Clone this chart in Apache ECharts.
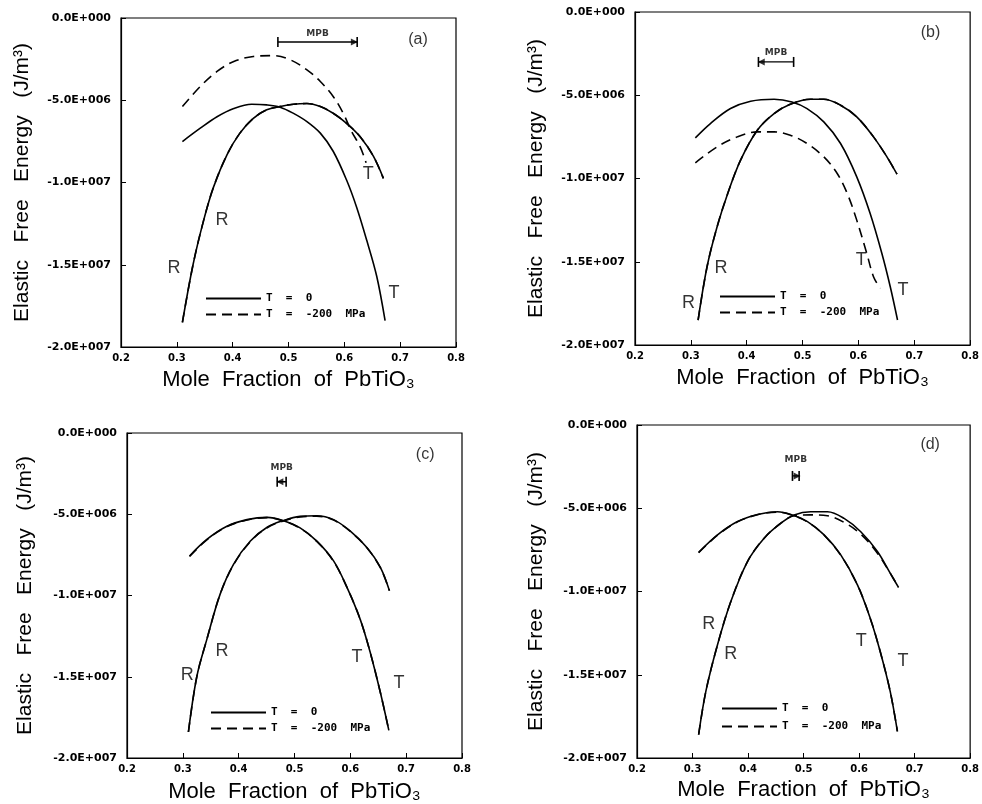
<!DOCTYPE html>
<html><head><meta charset="utf-8">
<script src="https://cdn.jsdelivr.net/npm/echarts@6/dist/echarts.min.js"></script>
<style>html,body{margin:0;padding:0;background:#fff}#c{width:982px;height:804px}</style>
</head><body><div id="c"></div>
<script>
// ---------- tick labels / names ----------
const xTickLabels = ['0.2','0.3','0.4','0.5','0.6','0.7','0.8'];
const yTickLabels = ['-2.0E+007','-1.5E+007','-1.0E+007','-5.0E+006','0.0E+000'];
const seriesNames = ['T  =  0','T  =  -200  MPa'];
const panelLetters = ['(a)','(b)','(c)','(d)'];
const xTitle = 'Mole  Fraction  of  PbTiO\u2083';
const yTitle = 'Elastic   Free   Energy   (J/m\u00B3)';

// ---------- panel (a) ----------
const a_solid_peakLeft = [[0.310,-7.51e6],[0.342,-6.7e6],[0.372,-6.0e6],[0.402,-5.5e6],[0.434,-5.24e6],[0.461,-5.28e6],[0.485,-5.42e6],[0.509,-5.8e6],[0.533,-6.3e6],[0.557,-7.0e6],[0.580,-8.1e6],[0.604,-9.85e6],[0.622,-11.5e6],[0.640,-13.5e6],[0.658,-15.7e6],[0.673,-18.4e6]];
const a_solid_peakRight = [[0.310,-18.5e6],[0.329,-15.0e6],[0.348,-12.3e6],[0.366,-10.25e6],[0.390,-8.3e6],[0.413,-7.0e6],[0.437,-6.1e6],[0.461,-5.58e6],[0.485,-5.38e6],[0.509,-5.24e6],[0.533,-5.2e6],[0.557,-5.38e6],[0.580,-5.79e6],[0.604,-6.4e6],[0.628,-7.2e6],[0.652,-8.4e6],[0.670,-9.75e6]];
const a_dash_peakLeft = [[0.310,-5.38e6],[0.342,-4.16e6],[0.372,-3.25e6],[0.402,-2.64e6],[0.437,-2.34e6],[0.473,-2.29e6],[0.503,-2.54e6],[0.533,-3.15e6],[0.557,-3.86e6],[0.580,-4.77e6],[0.598,-5.79e6],[0.613,-6.9e6],[0.628,-7.8e6],[0.639,-8.8e6]];
const a_dash_peakRight = [[0.310,-18.5e6],[0.329,-15.0e6],[0.348,-12.3e6],[0.366,-10.25e6],[0.390,-8.3e6],[0.413,-7.0e6],[0.437,-6.1e6],[0.461,-5.58e6],[0.485,-5.38e6],[0.509,-5.24e6],[0.533,-5.2e6],[0.557,-5.38e6],[0.580,-5.79e6],[0.604,-6.4e6],[0.628,-7.2e6],[0.652,-8.4e6],[0.670,-9.75e6]];
const a_phaseLabels = [['T',0.643,-9.5e6],['R',0.381,-12.3e6],['R',0.295,-15.2e6],['T',0.689,-16.7e6]];
const a_mpb = {from:0.481, to:0.623, level:-1.46e6, text:-0.95e6, arrow:'right'};

// ---------- panel (b) ----------
const b_solid_peakLeft = [[0.308,-7.56e6],[0.335,-6.7e6],[0.371,-5.8e6],[0.407,-5.36e6],[0.449,-5.24e6],[0.481,-5.4e6],[0.508,-5.8e6],[0.538,-6.6e6],[0.568,-7.9e6],[0.597,-9.9e6],[0.621,-12.1e6],[0.642,-14.5e6],[0.657,-16.5e6],[0.670,-18.5e6]];
const b_solid_peakRight = [[0.313,-18.5e6],[0.329,-15.3e6],[0.347,-12.9e6],[0.366,-10.9e6],[0.389,-8.9e6],[0.419,-7.1e6],[0.449,-6.1e6],[0.478,-5.54e6],[0.514,-5.24e6],[0.538,-5.24e6],[0.568,-5.6e6],[0.597,-6.3e6],[0.627,-7.5e6],[0.651,-8.7e6],[0.669,-9.74e6]];
const b_dash_peakLeft = [[0.308,-9.06e6],[0.347,-8.1e6],[0.383,-7.5e6],[0.419,-7.2e6],[0.449,-7.2e6],[0.478,-7.4e6],[0.508,-7.9e6],[0.538,-8.7e6],[0.562,-9.7e6],[0.580,-10.9e6],[0.597,-12.5e6],[0.615,-14.5e6],[0.627,-15.9e6],[0.639,-16.6e6]];
const b_dash_peakRight = [[0.313,-18.5e6],[0.329,-15.3e6],[0.347,-12.9e6],[0.366,-10.9e6],[0.389,-8.9e6],[0.419,-7.1e6],[0.449,-6.1e6],[0.478,-5.54e6],[0.514,-5.24e6],[0.538,-5.24e6],[0.568,-5.6e6],[0.597,-6.3e6],[0.627,-7.5e6],[0.651,-8.7e6],[0.669,-9.74e6]];
const b_phaseLabels = [['T',0.605,-14.9e6],['T',0.680,-16.7e6],['R',0.354,-15.4e6],['R',0.296,-17.5e6]];
const b_mpb = {from:0.421, to:0.484, level:-3.0e6, text:-2.45e6, arrow:'left'};

// ---------- panel (c) ----------
const c_solid_peakLeft = [[0.312,-7.57e6],[0.343,-6.55e6],[0.379,-5.74e6],[0.415,-5.33e6],[0.451,-5.19e6],[0.479,-5.38e6],[0.510,-5.84e6],[0.540,-6.65e6],[0.570,-7.87e6],[0.594,-9.5e6],[0.618,-11.5e6],[0.636,-13.55e6],[0.654,-16.0e6],[0.669,-18.3e6]];
const c_solid_peakRight = [[0.310,-18.4e6],[0.325,-15.0e6],[0.343,-12.7e6],[0.367,-9.9e6],[0.391,-8.07e6],[0.421,-6.65e6],[0.451,-5.8e6],[0.481,-5.38e6],[0.510,-5.13e6],[0.540,-5.09e6],[0.570,-5.33e6],[0.600,-6.04e6],[0.630,-7.06e6],[0.654,-8.28e6],[0.670,-9.7e6]];
const c_dash_peakLeft = [[0.312,-7.6e6],[0.343,-6.57e6],[0.379,-5.76e6],[0.415,-5.35e6],[0.451,-5.21e6],[0.479,-5.4e6],[0.510,-5.86e6],[0.540,-6.67e6],[0.570,-7.9e6],[0.594,-9.5e6],[0.618,-11.5e6],[0.636,-13.55e6],[0.654,-16.0e6],[0.669,-18.3e6]];
const c_dash_peakRight = [[0.310,-18.4e6],[0.325,-15.0e6],[0.343,-12.7e6],[0.367,-9.9e6],[0.391,-8.1e6],[0.421,-6.68e6],[0.451,-5.83e6],[0.481,-5.4e6],[0.510,-5.16e6],[0.540,-5.12e6],[0.570,-5.36e6],[0.600,-6.06e6],[0.630,-7.08e6],[0.654,-8.3e6],[0.670,-9.7e6]];
const c_phaseLabels = [['R',0.370,-13.4e6],['R',0.308,-14.9e6],['T',0.612,-13.8e6],['T',0.687,-15.4e6]];
const c_mpb = {from:0.469, to:0.485, level:-3.0e6, text:-2.15e6, arrow:'left'};

// ---------- panel (d) ----------
const d_solid_peakLeft = [[0.311,-7.65e6],[0.345,-6.6e6],[0.381,-5.8e6],[0.417,-5.37e6],[0.453,-5.21e6],[0.477,-5.37e6],[0.507,-5.8e6],[0.537,-6.6e6],[0.567,-7.8e6],[0.597,-9.6e6],[0.620,-11.6e6],[0.638,-13.6e6],[0.656,-16.0e6],[0.669,-18.4e6]];
const d_solid_peakRight = [[0.311,-18.6e6],[0.324,-16.0e6],[0.345,-13.2e6],[0.369,-10.6e6],[0.399,-8.2e6],[0.429,-6.8e6],[0.459,-5.9e6],[0.483,-5.4e6],[0.513,-5.21e6],[0.543,-5.21e6],[0.573,-5.61e6],[0.603,-6.41e6],[0.633,-7.6e6],[0.656,-8.9e6],[0.671,-9.75e6]];
const d_dash_peakLeft = [[0.311,-7.67e6],[0.345,-6.62e6],[0.381,-5.82e6],[0.417,-5.39e6],[0.453,-5.23e6],[0.477,-5.39e6],[0.507,-5.82e6],[0.537,-6.62e6],[0.567,-7.82e6],[0.597,-9.6e6],[0.620,-11.6e6],[0.638,-13.6e6],[0.656,-16.0e6],[0.669,-18.4e6]];
const d_dash_peakRight = [[0.311,-18.6e6],[0.324,-16.0e6],[0.345,-13.2e6],[0.369,-10.6e6],[0.399,-8.2e6],[0.429,-6.8e6],[0.459,-5.9e6],[0.483,-5.45e6],[0.513,-5.4e6],[0.543,-5.45e6],[0.573,-5.85e6],[0.603,-6.55e6],[0.633,-7.7e6],[0.656,-8.9e6],[0.671,-9.75e6]];
const d_phaseLabels = [['R',0.329,-11.95e6],['R',0.369,-13.75e6],['T',0.604,-13.0e6],['T',0.679,-14.2e6]];
const d_mpb = {from:0.480, to:0.492, level:-3.06e6, text:-2.1e6, arrow:'right'};

// ---------- layout (pixels) ----------
const panels = [
  {grid:{left:121, top:18, width:335, height:329}, legend:{left:205, top:293, gap:5}, yGap:88, xGap:22,
   solid:[a_solid_peakLeft,a_solid_peakRight], dash:[a_dash_peakLeft,a_dash_peakRight], labels:a_phaseLabels, mpb:a_mpb, letterPos:[0.732,-1.34e6]},
  {grid:{left:635, top:12, width:336, height:333}, legend:{left:719, top:291, gap:5}, yGap:88, xGap:22,
   solid:[b_solid_peakLeft,b_solid_peakRight], dash:[b_dash_peakLeft,b_dash_peakRight], labels:b_phaseLabels, mpb:b_mpb, letterPos:[0.729,-1.26e6]},
  {grid:{left:127, top:433, width:335, height:328}, legend:{left:210, top:707, gap:5}, yGap:91, xGap:23,
   solid:[c_solid_peakLeft,c_solid_peakRight], dash:[c_dash_peakLeft,c_dash_peakRight], labels:c_phaseLabels, mpb:c_mpb, letterPos:[0.734,-1.34e6]},
  {grid:{left:637, top:425, width:334, height:333}, legend:{left:721, top:703, gap:7}, yGap:90, xGap:21,
   solid:[d_solid_peakLeft,d_solid_peakRight], dash:[d_dash_peakLeft,d_dash_peakRight], labels:d_phaseLabels, mpb:d_mpb, letterPos:[0.728,-1.2e6]}
];

const BLACK = '#000';
const grids = [], xAxes = [], yAxes = [], legends = [], series = [];
panels.forEach((p, i) => {
  grids.push(Object.assign({show:true, borderColor:BLACK, borderWidth:1.2, backgroundColor:'transparent'}, p.grid));
  xAxes.push({
    gridIndex:i, type:'value', min:0.2, max:0.8, interval:0.1,
    axisLine:{show:true, onZero:false, lineStyle:{color:BLACK, width:1.2}},
    axisTick:{show:true, inside:true, length:5, lineStyle:{color:BLACK}},
    splitLine:{show:false},
    axisLabel:{showMinLabel:true, showMaxLabel:true, margin:6, color:BLACK, fontFamily:'DejaVu Sans', fontSize:10, fontWeight:'bold',
      formatter:v => xTickLabels[Math.round((v-0.2)*10)]},
    name:xTitle, nameLocation:'middle', nameGap:p.xGap,
    nameTextStyle:{fontFamily:'Liberation Sans', fontSize:22, color:BLACK}
  });
  yAxes.push({
    gridIndex:i, type:'value', min:-2e7, max:0, interval:5e6,
    axisLine:{show:true, onZero:false, lineStyle:{color:BLACK, width:1.2}},
    axisTick:{show:true, inside:true, length:5, lineStyle:{color:BLACK}},
    splitLine:{show:false},
    axisLabel:{showMinLabel:true, showMaxLabel:true, margin:10, color:BLACK, fontFamily:'DejaVu Sans', fontSize:11, fontWeight:'bold',
      formatter:v => yTickLabels[Math.round((v+2e7)/5e6)]},
    name:yTitle, nameLocation:'middle', nameGap:p.yGap,
    nameTextStyle:{fontFamily:'Liberation Sans', fontSize:21, color:BLACK}
  });
  legends.push({
    left:p.legend.left, top:p.legend.top, orient:'vertical', itemWidth:55, itemHeight:10, itemGap:p.legend.gap,
    padding:0, selectedMode:false, data:seriesNames,
    itemStyle:{opacity:0, borderWidth:0},
    textStyle:{fontFamily:'DejaVu Sans Mono', fontSize:11, fontWeight:'bold', color:BLACK}
  });
  p.solid.forEach(d => series.push({
    name:seriesNames[0], type:'line', xAxisIndex:i, yAxisIndex:i, data:d, smooth:0.35, symbol:'none',
    lineStyle:{color:BLACK, width:1.6, type:'solid'}, itemStyle:{color:BLACK}, silent:true, z:3
  }));
  p.dash.forEach(d => series.push({
    name:seriesNames[1], type:'line', xAxisIndex:i, yAxisIndex:i, data:d, smooth:0.35, symbol:'none',
    lineStyle:{color:BLACK, width:1.6, type:[10,6]}, itemStyle:{color:BLACK}, silent:true, z:4
  }));
  // phase labels R / T and panel letter
  series.push({
    type:'scatter', xAxisIndex:i, yAxisIndex:i, symbolSize:0, silent:true, z:5,
    data:p.labels.map(l => ({name:l[0], value:[l[1], l[2]]})),
    label:{show:true, position:'inside', formatter:'{b}', fontFamily:'Liberation Sans', fontSize:18, color:BLACK}
  });
  series.push({
    type:'scatter', xAxisIndex:i, yAxisIndex:i, symbolSize:0, silent:true, z:5,
    data:[{name:panelLetters[i], value:p.letterPos}],
    label:{show:true, position:'inside', formatter:'{b}', fontFamily:'Liberation Sans', fontSize:16, color:BLACK}
  });
  // MPB bar
  const m = p.mpb;
  series.push({
    type:'line', xAxisIndex:i, yAxisIndex:i, silent:true, z:5, showSymbol:true,
    data:[{value:[m.from, m.level]}, {value:[m.to, m.level]}],
    symbol:'rect', symbolSize:[1.6, 10], itemStyle:{color:BLACK}, lineStyle:{color:BLACK, width:1.3}
  });
  const span = m.to - m.from;
  const off = Math.min(0.005, span * 0.3);
  series.push({
    type:'scatter', xAxisIndex:i, yAxisIndex:i, silent:true, z:6,
    data:[m.arrow === 'right' ? [m.to - off, m.level] : [m.from + off, m.level]],
    symbol:'triangle', symbolSize:[7, 7], symbolRotate: m.arrow === 'right' ? -90 : 90,
    itemStyle:{color:BLACK}
  });
  series.push({
    type:'scatter', xAxisIndex:i, yAxisIndex:i, symbolSize:0, silent:true, z:5,
    data:[{name:'MPB', value:[(m.from + m.to) / 2, m.text]}],
    label:{show:true, position:'inside', formatter:'{b}', fontFamily:'DejaVu Sans', fontSize:9, fontWeight:'bold', color:BLACK}
  });
});

const chart = echarts.init(document.getElementById('c'), null, {renderer:'canvas'});
chart.setOption({
  animation:false, backgroundColor:'#fff',
  grid:grids, xAxis:xAxes, yAxis:yAxes, legend:legends, series:series
});
</script>
</body></html>
